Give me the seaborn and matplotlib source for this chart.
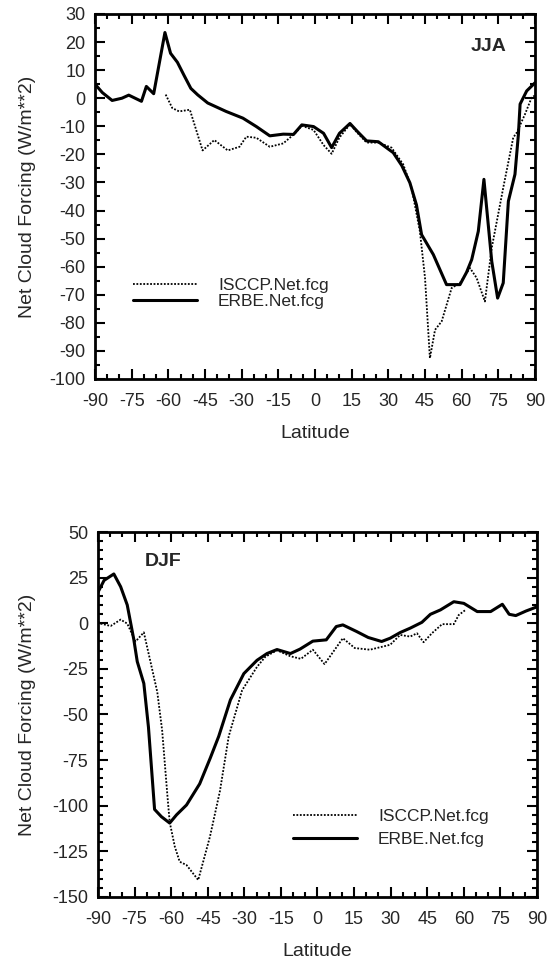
import matplotlib
matplotlib.use("Agg")
import matplotlib.pyplot as plt
import seaborn as sns
import pandas as pd
from matplotlib.ticker import MultipleLocator

# ---------------- data ----------------
x_ticks = [-90, -75, -60, -45, -30, -15, 0, 15, 30, 45, 60, 75, 90]
x_tick_labels = ["-90", "-75", "-60", "-45", "-30", "-15", "0", "15", "30", "45", "60", "75", "90"]

jja_y_ticks = [-100, -90, -80, -70, -60, -50, -40, -30, -20, -10, 0, 10, 20, 30]
djf_y_ticks = [-150, -125, -100, -75, -50, -25, 0, 25, 50]

# JJA
jja_erbe_lat = [-90, -87, -83, -79, -76.2, -71, -69, -66, -61.4, -59.1, -56.3, -53.5, -50.8, -48,
                -43.9, -36.4, -29.5, -24, -18.5, -13, -8.8, -5.4, -0.6, 3.5, 6.8, 10, 14.3, 17.5,
                21.1, 25.9, 32, 35.5, 38.8, 41.5, 43.6, 48.4, 53.8, 59.3, 62, 64.1, 66.8, 69.1,
                72.3, 74.7, 77, 79.1, 81.8, 83.2, 83.9, 86.6, 90]
jja_erbe_val = [5, 2, -0.8, 0, 1.1, -1.1, 4.2, 1.6, 23.4, 16, 12.8, 8, 3.5, 1.2,
                -1.7, -4.7, -7.1, -10.1, -13.4, -12.8, -12.9, -9.5, -10.1, -12.5, -17.6, -12.5, -9, -12,
                -15.2, -15.5, -19.4, -24, -30.1, -38, -48.6, -55.7, -66.4, -66.4, -62, -57.5, -47.4, -28.9,
                -58.1, -71.2, -65.8, -36.7, -27.1, -12.9, -2.1, 2.6, 5.5]

jja_isccp_lat = [-61.1, -58.4, -55.6, -51.2, -46, -41.2, -35.7, -30.9, -28.1, -24, -18.5, -13,
                 -8.2, -5.4, -0.6, 3.5, 6.8, 10, 14.3, 17.5, 21.1, 25.9, 31.3, 36.1, 39.5, 42.9,
                 45, 47, 49.1, 51.8, 55.9, 59.3, 63.4, 66.1, 69.5, 72.3, 77, 81.1, 82.5, 85.9, 88.6, 90]
jja_isccp_val = [1.3, -3.5, -4.7, -4.1, -18.6, -14.9, -18.6, -17.3, -13.7, -14.1, -17.3, -16.1,
                 -12.5, -9.8, -11.3, -16.7, -19.8, -14, -9.3, -12.5, -15.8, -15.8, -17.6, -23.6, -31.9, -47.4,
                 -64, -92.6, -82.5, -79.5, -67.6, -65.8, -60.5, -64, -72.4, -53.3, -31.9, -14, -12.3, -5.7, 0.2, 1]

# DJF
djf_erbe_lat = [-90, -87.5, -83.5, -80.7, -78, -75.3, -73.9, -71.2, -69.3, -66.8, -64, -60.6, -57.8,
                -53.7, -48.3, -44, -40.5, -35.7, -30.2, -24.8, -20.7, -16.6, -11.1, -7.2, -1.9, 3.6,
                7.7, 10.4, 16, 20.8, 26.3, 29.8, 33.9, 38, 42.8, 46.3, 50.4, 55.9, 60, 65.5, 71,
                75.8, 78.6, 81.3, 85.5, 90]
djf_erbe_val = [17, 23.5, 27, 20, 10, -9, -21, -33, -57, -102, -106, -109.5, -105,
                -99.6, -88, -74, -62, -42, -27.6, -20.3, -16.6, -14.4, -16.6, -14.2, -9.8, -9.1,
                -1.8, -0.9, -4.5, -7.8, -10, -8.2, -5.1, -2.7, 0.5, 4.9, 7.3, 11.8, 10.9, 6.4, 6.4,
                10.4, 4.9, 4.2, 6.7, 9]

djf_isccp_lat = [-90, -88.9, -84.8, -80.7, -78, -74.6, -71.2, -65.7, -63.7, -61.5, -60.6, -58.5,
                 -56.5, -53.7, -48.9, -44.1, -40, -36.4, -30.9, -24.8, -21.4, -16.6, -11.1, -6.8,
                 -1.9, 2.9, 10.4, 15.3, 21.5, 29.8, 33.9, 38, 40.8, 43.5, 46.9, 51.1, 55.9, 57.9, 60.7]
djf_isccp_val = [1, -0.2, -1.5, 2, -0.2, -10, -5, -37.6, -58.6, -95, -109, -122.4,
                 -130.7, -132.5, -140.7, -117, -92, -62, -36.7, -23.9, -18.4, -14.8, -18.1, -19.5,
                 -14.5, -22.4, -8.2, -13.6, -14.5, -11.8, -6.4, -7.3, -5.5, -10.4, -5.5, -0.5, -0.5, 4.5, 7.3]

# ---------------- style ----------------
sns.set_style("ticks")
plt.rcParams["font.family"] = ["Liberation Sans", "DejaVu Sans"]
plt.rcParams["axes.unicode_minus"] = False

fig = plt.figure(figsize=(5.48, 9.65), dpi=100)
ax1 = fig.add_axes([0.1734, 0.6073, 0.8029, 0.3782])
ax2 = fig.add_axes([0.1788, 0.0705, 0.8011, 0.3782])


def draw(ax, i_lat, i_val, e_lat, e_val, ylim, yticks, yminor, leg_anchor, leg_spacing,
         season, season_xy):
    df_i = pd.DataFrame({"Latitude": i_lat, "val": i_val})
    df_e = pd.DataFrame({"Latitude": e_lat, "val": e_val})
    sns.lineplot(data=df_i, x="Latitude", y="val", ax=ax, color="black", linewidth=1.3,
                 linestyle=(0, (1.0, 0.9)), label="ISCCP.Net.fcg", sort=False, estimator=None)
    sns.lineplot(data=df_e, x="Latitude", y="val", ax=ax, color="black", linewidth=2.2,
                 label="ERBE.Net.fcg", sort=False, estimator=None)
    ax.set_xlim(-90, 90)
    ax.set_ylim(*ylim)
    ax.set_xticks(x_ticks)
    ax.set_xticklabels(x_tick_labels)
    ax.set_yticks(yticks)
    ax.set_yticklabels([str(v) for v in yticks])
    ax.xaxis.set_minor_locator(MultipleLocator(5))
    ax.yaxis.set_minor_locator(MultipleLocator(yminor))
    ax.tick_params(which="both", direction="in", top=True, right=True, width=1.5, color="black")
    ax.tick_params(which="major", length=7)
    ax.tick_params(which="minor", length=3.5)
    ax.tick_params(axis="x", which="major", labelsize=13, pad=10)
    ax.tick_params(axis="y", which="major", labelsize=13, pad=7)
    for s in ax.spines.values():
        s.set_visible(True)
        s.set_linewidth(2)
        s.set_color("black")
    ax.set_xlabel("Latitude", fontsize=14)
    ax.set_ylabel("Net Cloud Forcing (W/m**2)", fontsize=14)
    ax.xaxis.set_label_coords(0.5, -0.125)
    ax.legend(loc="upper left", bbox_to_anchor=leg_anchor, frameon=False, borderpad=0,
              borderaxespad=0, handlelength=3.7, handletextpad=1.2, labelspacing=leg_spacing,
              fontsize=12.5)
    ax.text(season_xy[0], season_xy[1], season, transform=ax.transAxes, ha="center",
            va="center", fontsize=14, fontweight="bold")


draw(ax1, jja_isccp_lat, jja_isccp_val, jja_erbe_lat, jja_erbe_val, (-100, 30), jja_y_ticks, 5,
     (0.0864, 0.277), 0.05, "JJA", (0.895, 0.91))
draw(ax2, djf_isccp_lat, djf_isccp_val, djf_erbe_lat, djf_erbe_val, (-150, 50), djf_y_ticks, 5,
     (0.444, 0.241), 0.45, "DJF", (0.149, 0.918))

ax1.yaxis.set_label_coords(-0.135, 0.5)
ax2.yaxis.set_label_coords(-0.142, 0.5)

fig.savefig("out.png", dpi=100)
